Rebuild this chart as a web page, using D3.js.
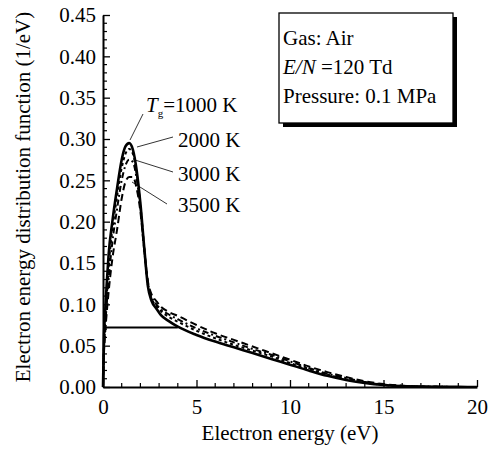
<!DOCTYPE html>
<html>
<head>
<meta charset="utf-8">
<script src="https://cdn.jsdelivr.net/npm/d3@7"></script>
<style>
  body { margin: 0; background: #fff; }
  svg text { font-family: "Liberation Serif", "Times New Roman", serif; fill: #000; }
</style>
</head>
<body>
<svg id="chart" width="496" height="452"></svg>
<script>
// electron energy grid (eV)
var energy = [0,0.05,0.1,0.2,0.3,0.5,0.75,1,1.2,1.4,1.6,1.8,2,2.2,2.4,2.6,2.85,3.1,3.5,4,5,6,7,8,9,10,11,12,13,14,15,16,17,18,19,20];

var eedf1000 = [0,.06,.085,.125,.16,.2,.24,.275,.291,.295,.287,.262,.222,.17,.122,.104,.095,.087,.08,.073,.063,.055,.048,.041,.034,.027,.02,.0135,.0085,.005,.0025,.001,.0004,.0002,.0001,0];
var eedf2000 = [0,.05,.075,.11,.145,.19,.23,.265,.282,.288,.282,.258,.22,.17,.124,.107,.098,.092,.085,.079,.068,.059,.051,.044,.037,.029,.022,.015,.0095,.0055,.0025,.001,.0004,.0002,.0001,0];
var eedf3000 = [0,.045,.068,.10,.13,.175,.215,.25,.268,.275,.272,.252,.218,.168,.126,.109,.1,.094,.088,.082,.071,.062,.054,.046,.039,.031,.023,.016,.011,.006,.003,.0012,.0005,.0002,.0001,0];
var eedf3500 = [0,.04,.06,.09,.115,.155,.19,.228,.248,.254,.254,.24,.212,.166,.128,.112,.104,.097,.091,.086,.075,.065,.057,.049,.041,.033,.025,.018,.012,.007,.0035,.0015,.0005,.0002,.0001,0];

// flat segment drawn at the low end
var flatE = [0, 4];
var flatF = [0.072, 0.072];

var xTicks = [0,5,10,15,20];
var yTicks = [0,0.05,0.1,0.15,0.2,0.25,0.3,0.35,0.4,0.45];
var seriesLabels = ["1000 K","2000 K","3000 K","3500 K"];
var infoLines = ["Gas: Air","=120 Td","Pressure: 0.1 MPa"];

var FS = '21px';

var svg = d3.select('#chart');

var xScale = d3.scaleLinear().domain([0,20]).range([103,477]);
var yScale = d3.scaleLinear().domain([0,0.45]).range([387,15]);

// minor ticks
var xMinor = d3.range(0,21,1).filter(function(d){ return d % 5 !== 0; });
var yMinor = d3.range(0,46,1).map(function(d){ return d/100; }).filter(function(d,i){ return i % 5 !== 0; });

var xAxis = d3.axisBottom(xScale).tickValues(xTicks).tickSize(-7).tickSizeOuter(0).tickPadding(12).tickFormat(d3.format('d'));
var yAxis = d3.axisLeft(yScale).tickValues(yTicks).tickSize(-7).tickSizeOuter(0).tickPadding(7).tickFormat(d3.format('.2f'));

var gx = svg.append('g').attr('transform','translate(0,387)').call(xAxis);
var gy = svg.append('g').attr('transform','translate(103,0)').call(yAxis);

[gx, gy].forEach(function(g){
  g.select('.domain').attr('stroke','#000').attr('stroke-width',2);
  g.selectAll('.tick line').attr('stroke','#000').attr('stroke-width',1.3);
  g.selectAll('.tick text').style('font-size',FS).attr('fill','#000');
});

svg.append('g').selectAll('line').data(xMinor).enter().append('line')
   .attr('x1',function(d){ return xScale(d); }).attr('x2',function(d){ return xScale(d); })
   .attr('y1',387).attr('y2',383).attr('stroke','#000').attr('stroke-width',1.2);
svg.append('g').selectAll('line').data(yMinor).enter().append('line')
   .attr('y1',function(d){ return yScale(d); }).attr('y2',function(d){ return yScale(d); })
   .attr('x1',103).attr('x2',107).attr('stroke','#000').attr('stroke-width',1.2);

// curves
var line = d3.line()
  .x(function(d){ return xScale(d[0]); })
  .y(function(d){ return yScale(d[1]); })
  .curve(d3.curveMonotoneX);

var series = [
  {vals: eedf3500, dash: '7,4', w: 2},
  {vals: eedf3000, dash: '6,3,2,3', w: 2},
  {vals: eedf2000, dash: '3,3', w: 2},
  {vals: eedf1000, dash: null, w: 2.6}
];

series.forEach(function(s){
  svg.append('path')
     .datum(energy.map(function(e,i){ return [e, s.vals[i]]; }))
     .attr('d', line)
     .attr('fill','none')
     .attr('stroke','#000')
     .attr('stroke-width', s.w)
     .attr('stroke-dasharray', s.dash);
});

svg.append('path')
   .datum(flatE.map(function(e,i){ return [e, flatF[i]]; }))
   .attr('d', d3.line().x(function(d){ return xScale(d[0]); }).y(function(d){ return yScale(d[1]); }))
   .attr('stroke','#000').attr('stroke-width',2).attr('fill','none');

// leader lines and labels
var leaders = [
  {from:[130,140], to:[143,114]},
  {from:[137,147], to:[173,137]},
  {from:[135,160], to:[173,172]},
  {from:[132,182], to:[167,204]}
];
leaders.forEach(function(l){
  svg.append('line').attr('x1',l.from[0]).attr('y1',l.from[1]).attr('x2',l.to[0]).attr('y2',l.to[1])
     .attr('stroke','#000').attr('stroke-width',0.8);
});

var tg = svg.append('text').attr('x',146).attr('y',112).style('font-size',FS);
tg.append('tspan').style('font-style','italic').text('T');
tg.append('tspan').attr('dy',5).style('font-size','11px').text('g');
tg.append('tspan').attr('dy',-5).text('=' + seriesLabels[0]);

var labelPos = [[178,147],[178,181],[178,212]];
seriesLabels.slice(1).forEach(function(t,i){
  svg.append('text').attr('x',labelPos[i][0]).attr('y',labelPos[i][1]).style('font-size',FS).text(t);
});

// info box with shadow
svg.append('rect').attr('x',283).attr('y',17).attr('width',174).attr('height',110).attr('fill','#000');
svg.append('rect').attr('x',279).attr('y',13).attr('width',174).attr('height',110)
   .attr('fill','#fff').attr('stroke','#000').attr('stroke-width',1.3);

svg.append('text').attr('x',283).attr('y',45).style('font-size',FS).text(infoLines[0]);
var en = svg.append('text').attr('x',283).attr('y',74).style('font-size',FS);
en.append('tspan').style('font-style','italic').text('E/N');
en.append('tspan').text(' ' + infoLines[1]);
svg.append('text').attr('x',283).attr('y',103).style('font-size',FS).text(infoLines[2]);

// axis titles
svg.append('text').attr('x',290).attr('y',440).attr('text-anchor','middle').style('font-size',FS)
   .text('Electron energy (eV)');
svg.append('text').attr('transform','translate(30,197) rotate(-90)').attr('text-anchor','middle')
   .style('font-size',FS).text('Electron energy distribution function (1/eV)');
</script>
</body>
</html>
